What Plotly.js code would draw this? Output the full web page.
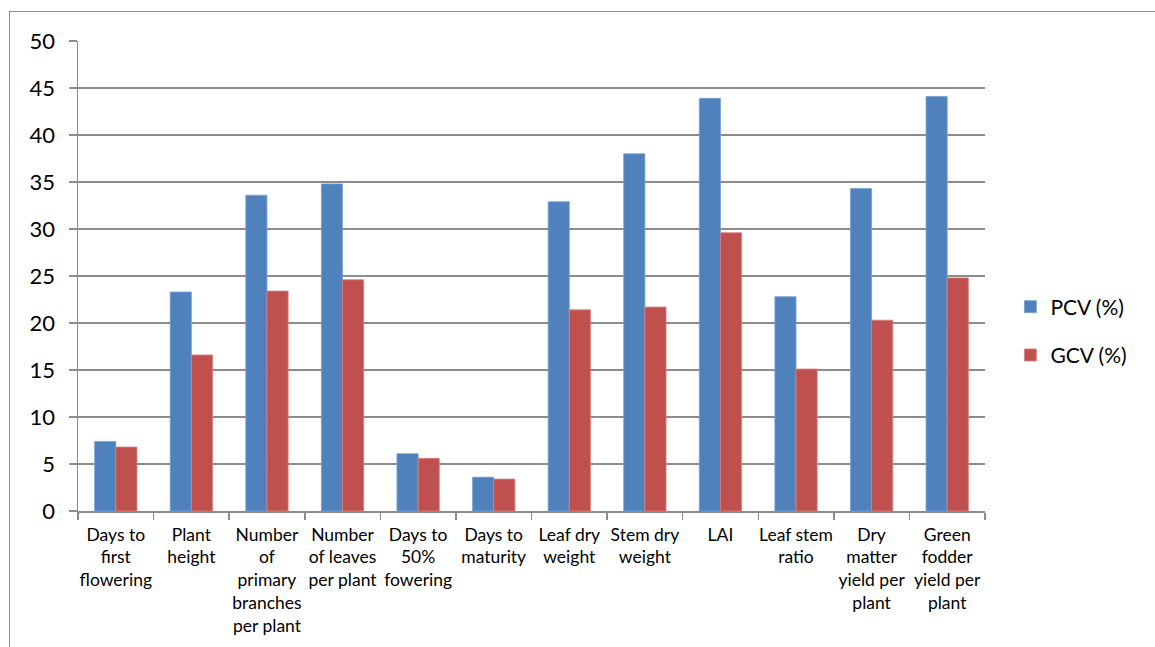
<!DOCTYPE html>
<html>
<head>
<meta charset="utf-8">
<script src="https://cdn.plot.ly/plotly-3.0.1.min.js"></script>
<style>
html,body{margin:0;padding:0;background:#fff;overflow:hidden;}
#wrap{position:relative;width:1155px;height:647px;}
#chart{position:absolute;left:0;top:0;width:1155px;height:647px;}
#frame{position:absolute;left:9px;top:11px;width:1160px;height:660px;border:1px solid #8c8c8c;pointer-events:none;}
</style>
</head>
<body>
<div id="wrap"><div id="chart"></div><div id="frame"></div></div>
<script>
const categories = [
  "Days to<br>first<br>flowering",
  "Plant<br>height",
  "Number<br>of<br>primary<br>branches<br>per plant",
  "Number<br>of leaves<br>per plant",
  "Days to<br>50%<br>fowering",
  "Days to<br>maturity",
  "Leaf dry<br>weight",
  "Stem dry<br>weight",
  "LAI",
  "Leaf stem<br>ratio",
  "Dry<br>matter<br>yield per<br>plant",
  "Green<br>fodder<br>yield per<br>plant"
];
const pcv = [7.4, 23.3, 33.6, 34.8, 6.1, 3.6, 32.9, 38.0, 43.9, 22.8, 34.3, 44.1];
const gcv = [6.8, 16.6, 23.4, 24.6, 5.6, 3.4, 21.4, 21.7, 29.6, 15.1, 20.3, 24.8];
const seriesNames = ["PCV (%)", "GCV (%)"];
const yTicks = [0, 5, 10, 15, 20, 25, 30, 35, 40, 45, 50];

const font = "Lato, 'Open Sans', sans-serif";
const traces = [
  {type:"bar", name:seriesNames[0], x:categories, y:pcv, legendgroup:"a",
   marker:{color:"#4f81bd", line:{color:"#7aa0d0", width:0.8}}},
  {type:"bar", name:seriesNames[1], x:categories, y:gcv, legendgroup:"b",
   marker:{color:"#c0504d", line:{color:"#d98280", width:0.8}}}
];
const layout = {
  width:1155, height:647,
  margin:{l:78, r:170, t:41, b:136},
  paper_bgcolor:"#fff", plot_bgcolor:"#fff",
  barmode:"group", bargap:0.44, bargroupgap:0,
  font:{family:font, color:"#000"},
  showlegend:true,
  legend:{x:1.028, xanchor:"left", y:0.383, yanchor:"middle",
          font:{size:21, family:font}, tracegroupgap:18, traceorder:"grouped"},
  xaxis:{type:"category", tickson:"boundaries", ticks:"outside", ticklen:7,
         tickcolor:"#8c8c8c", tickwidth:1.5, showline:true, linecolor:"#8c8c8c", linewidth:1.5,
         tickfont:{size:17.5, family:font}, tickangle:0, showgrid:false, fixedrange:true,
         ticklabelstandoff:7},
  yaxis:{range:[0,50], tickvals:yTicks, ticks:"outside", ticklen:8, tickcolor:"#8c8c8c",
         tickwidth:1.5, showline:true, linecolor:"#8c8c8c", linewidth:1.5,
         showgrid:true, gridcolor:"#8c8c8c", gridwidth:1.5, zeroline:false,
         tickfont:{size:22, family:font}, ticklabelstandoff:9, fixedrange:true}
};
Plotly.newPlot("chart", traces, layout, {displayModeBar:false, staticPlot:true});
</script>
</body>
</html>
